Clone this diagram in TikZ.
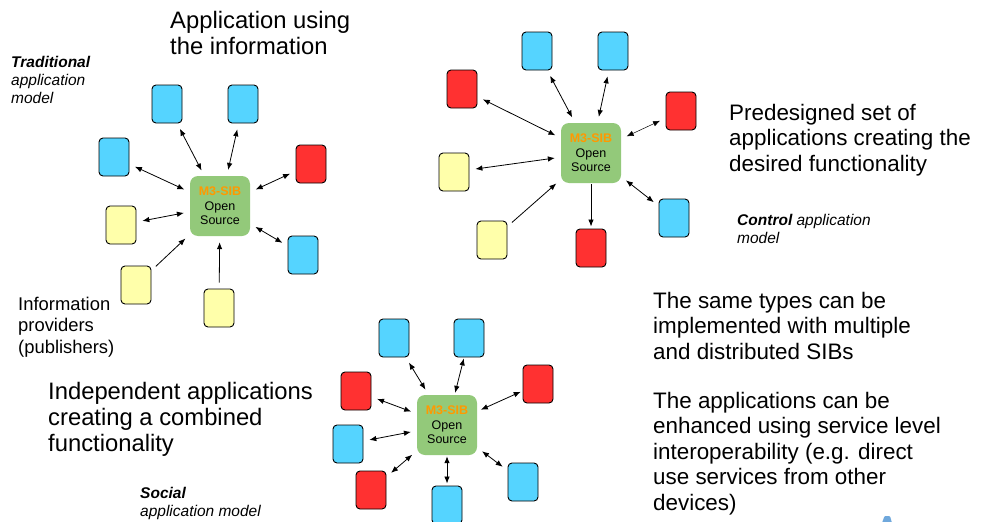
\documentclass[tikz,border=0pt]{standalone}
\usepackage{fontspec}
\setmainfont{Liberation Sans}
\usetikzlibrary{arrows.meta}
\definecolor{appblue}{HTML}{55D4FF}
\definecolor{appred}{HTML}{FF3131}
\definecolor{appyellow}{HTML}{FFFFAA}
\definecolor{hubgreen}{HTML}{93C97A}
\definecolor{huborange}{HTML}{FF9900}
\definecolor{logoblue}{HTML}{6FA8DC}
\newcommand\bigsize{\fontsize{23.8}{26}\selectfont}
\newcommand\midsize{\fontsize{22.4}{25.5}\selectfont}
\newcommand\notesize{\fontsize{18.4}{21.3}\selectfont}
\newcommand\modelsize{\fontsize{15.5}{18}\selectfont\itshape}
\newcommand\hubsize{\fontsize{12.5}{14.5}\selectfont}
\begin{document}
\begin{tikzpicture}[x=1pt,y=-1pt,
    app/.style={draw, line width=0.9pt, rounded corners=4pt, minimum width=30pt, minimum height=38pt, inner sep=0pt},
    bapp/.style={app, fill=appblue},
    rapp/.style={app, fill=appred},
    yapp/.style={app, fill=appyellow},
    hub/.style={fill=hubgreen, rounded corners=8pt, minimum width=60pt, minimum height=60pt, inner sep=0pt, align=center, font=\hubsize},
    link/.style={{Latex[length=7pt,width=5.5pt]}-{Latex[length=7pt,width=5.5pt]}, line width=0.8pt, shorten <=6pt, shorten >=6pt},
    feed/.style={-{Latex[length=7pt,width=5.5pt]}, line width=0.8pt, shorten <=6pt, shorten >=6pt},
    txt/.style={anchor=north west, inner sep=0pt, align=left}]
        \useasboundingbox (0,0) rectangle (991,522);
        \node[txt, font=\bigsize] (usingtxt) at (170,11) {Application using\\the information};
        \node[txt, font=\modelsize] (tradtxt) at (11,56) {\textbf{Traditional}\\application\\model};
        \node[txt, font=\notesize] (infotxt) at (18,297) {Information\\providers\\(publishers)};
        \node[txt, font=\bigsize] (indeptxt) at (48,382) {Independent applications\\creating a combined\\functionality};
        \node[txt, font=\modelsize] (socialtxt) at (140,487) {\textbf{Social}\\application model};
        \node[txt, font=\midsize] (predtxt) at (729,104) {Predesigned set of\\applications creating the\\desired functionality};
        \node[txt, font=\modelsize] (controltxt) at (737,214) {\textbf{Control} application\\model};
        \node[txt, font=\midsize] (typestxt) at (653,292) {The same types can be\\implemented with multiple\\and distributed SIBs};
        \node[txt, font=\midsize] (servtxt) at (653,392) {The applications can be\\enhanced using service level\\interoperability (e.g. direct\\use services from other\\devices)};

        \node[hub] (sibT) at (220,206) {\textcolor{huborange}{\textbf{M3-SIB}}\\Open\\Source};
        \node[bapp] (t1) at (167,104) {};
        \node[bapp] (t2) at (243,104) {};
        \node[bapp] (t3) at (114,157) {};
        \node[rapp] (t4) at (311,164) {};
        \node[yapp] (t5) at (121,225) {};
        \node[bapp] (t6) at (303,255) {};
        \node[yapp] (t7) at (136,285) {};
        \node[yapp] (t8) at (219,308) {};
        \draw[link](t1)--(sibT);
        \draw[link](t2)--(sibT);
        \draw[link](t3)--(sibT);
        \draw[link](t4)--(sibT);
        \draw[link](t5)--(sibT);
        \draw[link](t6)--(sibT);
        \draw[feed](t7)--(sibT);
        \draw[feed](t8)--(sibT);

        \node[hub] (sibC) at (591,153) {\textcolor{huborange}{\textbf{M3-SIB}}\\Open\\Source};
        \node[bapp] (c1) at (537,51) {};
        \node[bapp] (c2) at (613,51) {};
        \node[rapp] (c3) at (462,89) {};
        \node[rapp] (c4) at (681,111) {};
        \node[yapp] (c5) at (454,172) {};
        \node[yapp] (c6) at (492,240) {};
        \node[rapp] (c7) at (591,248) {};
        \node[bapp] (c8) at (674,218) {};
        \draw[link](c1)--(sibC);
        \draw[link](c2)--(sibC);
        \draw[link](c3)--(sibC);
        \draw[link, line width=0.5pt](c4)--(sibC);
        \draw[link](c5)--(sibC);
        \draw[feed](c6)--(sibC);
        \draw[feed, shorten <=1pt, shorten >=2pt](sibC)--(c7);
        \draw[link](c8)--(sibC);

        \node[hub] (sibS) at (447,425) {\textcolor{huborange}{\textbf{M3-SIB}}\\Open\\Source};
        \node[bapp] (s1) at (394,338) {};
        \node[bapp] (s2) at (469,338) {};
        \node[rapp] (s3) at (356,391) {};
        \node[rapp] (s4) at (538,384) {};
        \node[bapp] (s5) at (348,444) {};
        \node[rapp] (s6) at (371,490) {};
        \node[bapp] (s7) at (447,505) {};
        \node[bapp] (s8) at (523,482) {};
        \draw[link](s1)--(sibS);
        \draw[link, shorten <=1pt, shorten >=2pt](s2)--(sibS);
        \draw[link](s3)--(sibS);
        \draw[link, shorten <=2pt, shorten >=4pt](s4)--(sibS);
        \draw[link](s5)--(sibS);
        \draw[link](s6)--(sibS);
        \draw[link, shorten <=2pt, shorten >=1pt](s7)--(sibS);
        \draw[link](s8)--(sibS);

        \fill[logoblue, rounded corners=1pt] (882,523) -- (884.5,516) -- (890,516) -- (892,523) -- cycle;
\end{tikzpicture}
\end{document}
